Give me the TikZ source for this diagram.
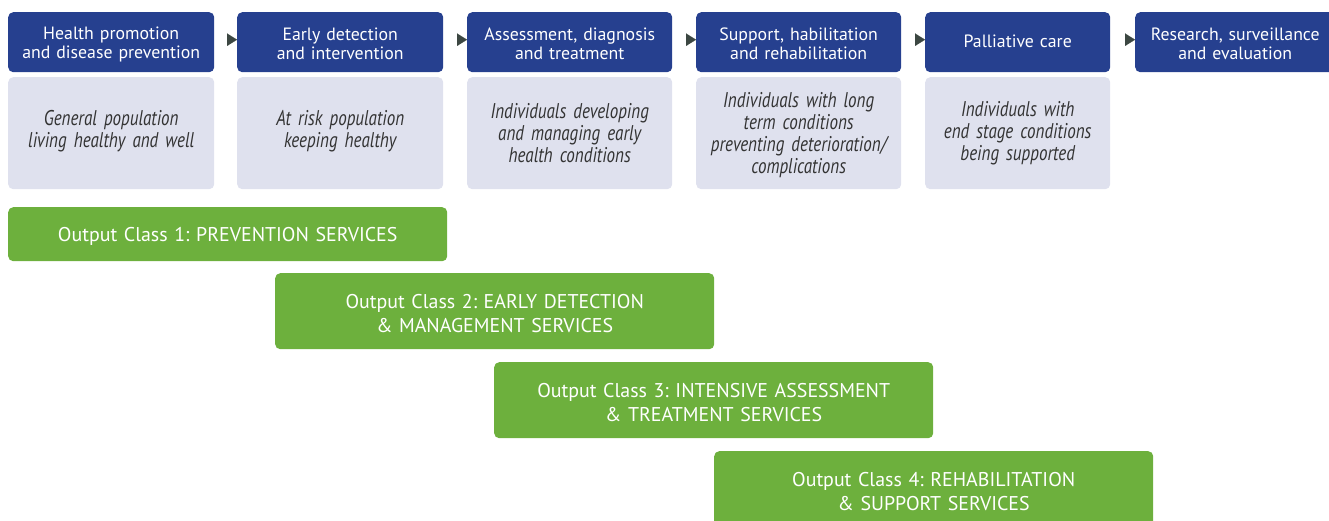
\documentclass[tikz,border=0pt]{standalone}
\usepackage{fontspec}
\setmainfont{PT Sans}[WordSpace=0.8]
\newfontfamily\narrowit{PT Sans}[FakeStretch=0.8, WordSpace=0.8]
\usetikzlibrary{arrows.meta}
\frenchspacing

\definecolor{navy}{HTML}{26408F}
\definecolor{paleblue}{HTML}{DFE1EE}
\definecolor{leaf}{HTML}{6DB03D}
\definecolor{tipgray}{HTML}{3C4742}
\definecolor{notegray}{HTML}{333333}

\tikzset{
  stage/.style={fill=navy, text=white, rounded corners=5pt, anchor=north west,
    inner sep=0pt, minimum height=60pt, text width=#1, align=center,
    text height=16.8pt, font=\fontsize{17.8}{19}\selectfont},
  group/.style={fill=paleblue, text=notegray, rounded corners=5pt, anchor=north west,
    inner sep=0pt, minimum height=112pt, text width=#1, align=center,
    text height=11.3pt, font=\narrowit\itshape\fontsize{21.3}{22}\selectfont},
  outclass/.style={fill=leaf, text=white, rounded corners=5pt, anchor=north west,
    inner sep=0pt, minimum height=#1, text width=439pt, align=center,
    text height=18.3pt, font=\fontsize{19.9}{24}\selectfont},
  flow/.style={draw=tipgray, fill=tipgray, line width=0.01pt,
    -{Triangle[length=10pt,width=12.5pt]}},
}

\begin{document}
\begin{tikzpicture}[x=1pt, y=-1pt]
\useasboundingbox (0,0) rectangle (1329,521);
\clip (0,0) rectangle (1329,521);

% stage headers
\node[stage=206pt] (h1) at (8,12)    {Health promotion\\and disease prevention};
\node[stage=206pt] (h2) at (237,12)  {Early detection\\and intervention};
\node[stage=205pt] (h3) at (467,12)  {Assessment, diagnosis\\and treatment};
\node[stage=205pt] (h4) at (696,12)  {Support, habilitation\\and rehabilitation};
\node[stage=185pt, text height=10.8pt] (h5) at (925,12) {Palliative care};
\node[stage=200pt] (h6) at (1135,12) {Research, surveillance\\and evaluation};

% population groups
\node[group=206pt] (g1) at (8,77)   {General population\\living healthy and well};
\node[group=206pt] (g2) at (237,77) {At risk population\\keeping healthy};
\node[group=205pt, text height=15.3pt] (g3) at (467,77) {Individuals developing\\and managing early\\health conditions};
\node[group=205pt, text height=18.3pt] (g4) at (696,77) {Individuals with long\\term conditions\\preventing deterioration/\\complications};
\node[group=185pt, text height=15.3pt] (g5) at (925,77) {Individuals with\\end stage conditions\\being supported};

% output classes
\node[outclass=54pt] (o1) at (8,207)   {Output Class 1: PREVENTION SERVICES};
\node[outclass=76pt] (o2) at (275,273) {Output Class 2: EARLY DETECTION\\\& MANAGEMENT SERVICES};
\node[outclass=76pt] (o3) at (494,362) {Output Class 3: INTENSIVE ASSESSMENT\\\& TREATMENT SERVICES};
\node[outclass=76pt] (o4) at (714,451) {Output Class 4: REHABILITATION\\\& SUPPORT SERVICES};

% arrowheads between stages
\draw[flow, shorten <=13pt] ([yshift=2.5pt]h1.east) -- ([yshift=2.5pt]h2.west);
\draw[flow, shorten <=14pt] ([yshift=2.5pt]h2.east) -- ([yshift=2.5pt]h3.west);
\draw[flow, shorten <=14pt] ([yshift=2.5pt]h3.east) -- ([yshift=2.5pt]h4.west);
\draw[flow, shorten <=14pt] ([yshift=2.5pt]h4.east) -- ([yshift=2.5pt]h5.west);
\draw[flow, shorten <=15pt] ([yshift=2.5pt]h5.east) -- ([yshift=2.5pt]h6.west);
\end{tikzpicture}
\end{document}
